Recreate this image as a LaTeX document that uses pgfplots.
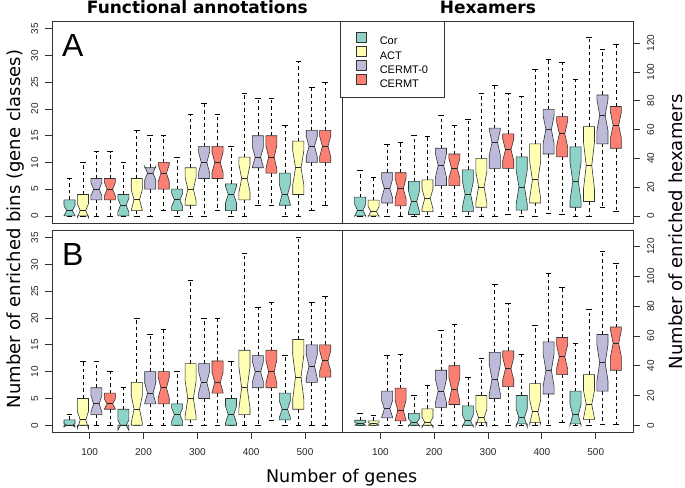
\documentclass[border=0pt]{standalone}
\usepackage{pgfplots}
\pgfplotsset{compat=1.18}
\usepgfplotslibrary{statistics}
\usepackage{fontspec}
\setmainfont{Liberation Sans}
\newfontfamily\dejavu{DejaVu Sans}
\definecolor{corc}{HTML}{8DD3C7}
\definecolor{actc}{HTML}{FFFFB3}
\definecolor{czc}{HTML}{BEBADA}
\definecolor{cmc}{HTML}{FB8072}
\definecolor{frm}{HTML}{333333}
\pgfplotsset{
  boxplot/notch lo/.initial=0,
  boxplot/notch hi/.initial=0,
  boxplot/draw direction=y,
  boxplot/box extend=0.82,
  boxplot/draw/box/.code={%
    \draw[/pgfplots/boxplot/every box/.try]
      (boxplot box cs:\pgfplotsboxplotvalue{lower quartile},0) --
      (boxplot box cs:\pgfplotsboxplotvalue{lower quartile},1) --
      (boxplot box cs:\pgfplotsboxplotvalue{notch lo},1) --
      (boxplot box cs:\pgfplotsboxplotvalue{median},0.75) --
      (boxplot box cs:\pgfplotsboxplotvalue{notch hi},1) --
      (boxplot box cs:\pgfplotsboxplotvalue{upper quartile},1) --
      (boxplot box cs:\pgfplotsboxplotvalue{upper quartile},0) --
      (boxplot box cs:\pgfplotsboxplotvalue{notch hi},0) --
      (boxplot box cs:\pgfplotsboxplotvalue{median},0.25) --
      (boxplot box cs:\pgfplotsboxplotvalue{notch lo},0) -- cycle;
  },
  boxplot/draw/median/.code={%
    \draw[fill=none, draw=black!85, line width=1.0pt]
      (boxplot box cs:\pgfplotsboxplotvalue{median},0.25) --
      (boxplot box cs:\pgfplotsboxplotvalue{median},0.75);
  },
  boxplot/draw/lower whisker/.code={%
    \draw[fill=none, draw=black, line width=0.6pt, dash pattern=on 3.5pt off 3pt]
      (boxplot box cs:\pgfplotsboxplotvalue{lower quartile},0.5) --
      (boxplot box cs:\pgfplotsboxplotvalue{lower whisker},0.5);
    \draw[fill=none, draw=black, line width=0.6pt, solid]
      (boxplot box cs:\pgfplotsboxplotvalue{lower whisker},0.25) --
      (boxplot box cs:\pgfplotsboxplotvalue{lower whisker},0.75);
  },
  boxplot/draw/upper whisker/.code={%
    \draw[fill=none, draw=black, line width=0.6pt, dash pattern=on 3.5pt off 3pt]
      (boxplot box cs:\pgfplotsboxplotvalue{upper quartile},0.5) --
      (boxplot box cs:\pgfplotsboxplotvalue{upper whisker},0.5);
    \draw[fill=none, draw=black, line width=0.6pt, solid]
      (boxplot box cs:\pgfplotsboxplotvalue{upper whisker},0.25) --
      (boxplot box cs:\pgfplotsboxplotvalue{upper whisker},0.75);
  },
  cor/.style={draw=frm, fill=corc, line width=0.6pt},
  act/.style={draw=frm, fill=actc, line width=0.6pt},
  cz/.style={draw=frm, fill=czc, line width=0.6pt},
  cm/.style={draw=frm, fill=cmc, line width=0.6pt},
  panel/.style={
    scale only axis, width=290.7pt,
    xmin=-0.3, xmax=21.3,
    axis line style={draw=frm, line width=0.8pt},
    tick style={draw=frm, line width=0.8pt},
    major tick length=6.5pt,
    tick align=outside,
    /pgf/number format/assume math mode=true,
    ticklabel style={font=\fontsize{10}{12}\selectfont, text=black!85},
  },
  leftp/.style={panel, ytick pos=left, yticklabel pos=left,
    yticklabel style={xshift=-7pt, rotate=90, anchor=south, inner sep=0pt}},
  rightp/.style={panel, ytick pos=right, yticklabel pos=right,
    yticklabel style={xshift=7pt, rotate=90, anchor=north, inner sep=0pt}},
  topp/.style={xtick=\empty},
  botp/.style={xtick={2.5,6.5,10.5,14.5,18.5}, xticklabels={100,200,300,400,500},
    xtick pos=lower, xticklabel style={anchor=north, inner sep=0pt, yshift=-9pt}},
}
\begin{document}
\begin{tikzpicture}
\path[use as bounding box] (0,0) rectangle (685pt,487pt);

% ---------- A: Functional annotations ----------
\begin{axis}[leftp, topp, at={(52pt,263.6pt)}, anchor=south west, height=202.1pt,
  ymin=-1.4, ymax=36.4, ytick={0,5,...,35}]
\addplot[cor,boxplot prepared={draw position=1,lower whisker=0,lower quartile=0,median=1,upper quartile=3,upper whisker=7,notch lo=0.05,notch hi=1.95}] coordinates {};
\addplot[act,boxplot prepared={draw position=2,lower whisker=0,lower quartile=0,median=1,upper quartile=4,upper whisker=10,notch lo=-0.26,notch hi=2.26}] coordinates {};
\addplot[cz,boxplot prepared={draw position=3,lower whisker=0,lower quartile=3,median=5,upper quartile=7,upper whisker=12,notch lo=3.74,notch hi=6.26}] coordinates {};
\addplot[cm,boxplot prepared={draw position=4,lower whisker=0,lower quartile=3,median=5,upper quartile=7,upper whisker=12,notch lo=3.74,notch hi=6.26}] coordinates {};
\addplot[cor,boxplot prepared={draw position=5,lower whisker=0,lower quartile=0,median=2,upper quartile=4,upper whisker=10,notch lo=0.74,notch hi=3.26}] coordinates {};
\addplot[act,boxplot prepared={draw position=6,lower whisker=0,lower quartile=1,median=3,upper quartile=7,upper whisker=16,notch lo=1.10,notch hi=4.90}] coordinates {};
\addplot[cz,boxplot prepared={draw position=7,lower whisker=0,lower quartile=5,median=8,upper quartile=9,upper whisker=15,notch lo=6.74,notch hi=9.26}] coordinates {};
\addplot[cm,boxplot prepared={draw position=8,lower whisker=1,lower quartile=5,median=8,upper quartile=10,upper whisker=15,notch lo=6.42,notch hi=9.58}] coordinates {};
\addplot[cor,boxplot prepared={draw position=9,lower whisker=0,lower quartile=1,median=3,upper quartile=5,upper whisker=11,notch lo=1.74,notch hi=4.26}] coordinates {};
\addplot[act,boxplot prepared={draw position=10,lower whisker=0,lower quartile=2,median=5,upper quartile=9,upper whisker=19,notch lo=2.79,notch hi=7.21}] coordinates {};
\addplot[cz,boxplot prepared={draw position=11,lower whisker=0,lower quartile=7,median=10,upper quartile=13,upper whisker=21,notch lo=8.10,notch hi=11.90}] coordinates {};
\addplot[cm,boxplot prepared={draw position=12,lower whisker=1,lower quartile=7,median=10,upper quartile=13,upper whisker=19,notch lo=8.10,notch hi=11.90}] coordinates {};
\addplot[cor,boxplot prepared={draw position=13,lower whisker=0,lower quartile=1,median=4,upper quartile=6,upper whisker=13,notch lo=2.42,notch hi=5.58}] coordinates {};
\addplot[act,boxplot prepared={draw position=14,lower whisker=0,lower quartile=3,median=7,upper quartile=11,upper whisker=23,notch lo=4.47,notch hi=9.53}] coordinates {};
\addplot[cz,boxplot prepared={draw position=15,lower whisker=2,lower quartile=9,median=11,upper quartile=15,upper whisker=22,notch lo=9.10,notch hi=12.90}] coordinates {};
\addplot[cm,boxplot prepared={draw position=16,lower whisker=2,lower quartile=8,median=11,upper quartile=15,upper whisker=22,notch lo=8.79,notch hi=13.21}] coordinates {};
\addplot[cor,boxplot prepared={draw position=17,lower whisker=0,lower quartile=2,median=4,upper quartile=8,upper whisker=17,notch lo=2.10,notch hi=5.90}] coordinates {};
\addplot[act,boxplot prepared={draw position=18,lower whisker=0,lower quartile=4,median=9,upper quartile=14,upper whisker=29,notch lo=5.84,notch hi=12.16}] coordinates {};
\addplot[cz,boxplot prepared={draw position=19,lower whisker=1,lower quartile=10,median=13,upper quartile=16,upper whisker=24,notch lo=11.10,notch hi=14.90}] coordinates {};
\addplot[cm,boxplot prepared={draw position=20,lower whisker=2,lower quartile=10,median=13,upper quartile=16,upper whisker=25,notch lo=11.10,notch hi=14.90}] coordinates {};
\end{axis}

% ---------- A: Hexamers ----------
\begin{axis}[rightp, topp, at={(342.7pt,263.6pt)}, anchor=south west, height=202.1pt,
  ymin=-5.2, ymax=135.2, ytick={0,20,...,120},
  legend style={at={(-0.01,1)}, anchor=north west, draw=frm, line width=0.8pt, fill=white,
    font=\fontsize{11}{11}\selectfont, inner xsep=16pt, inner ysep=10pt,
    row sep=0.85pt, column sep=13pt,
    nodes={inner sep=0pt, text height=8pt, text depth=0pt}},
  legend cell align=left,
  legend image code/.code={\draw[#1, draw=frm, line width=0.6pt] (0pt,-1pt) rectangle (10pt,9pt);}]
\addlegendimage{fill=corc}\addlegendentry{Cor}
\addlegendimage{fill=actc}\addlegendentry{ACT}
\addlegendimage{fill=czc}\addlegendentry{CERMT-0}
\addlegendimage{fill=cmc}\addlegendentry{CERMT}
\addplot[cor,boxplot prepared={draw position=1,lower whisker=0,lower quartile=0,median=4,upper quartile=13,upper whisker=32,notch lo=-0.11,notch hi=8.11}] coordinates {};
\addplot[act,boxplot prepared={draw position=2,lower whisker=0,lower quartile=0,median=3,upper quartile=11,upper whisker=27,notch lo=-0.48,notch hi=6.48}] coordinates {};
\addplot[cz,boxplot prepared={draw position=3,lower whisker=0,lower quartile=9,median=19,upper quartile=30,upper whisker=50,notch lo=12.36,notch hi=25.64}] coordinates {};
\addplot[cm,boxplot prepared={draw position=4,lower whisker=0,lower quartile=7,median=19,upper quartile=30,upper whisker=51,notch lo=11.73,notch hi=26.27}] coordinates {};
\addplot[cor,boxplot prepared={draw position=5,lower whisker=0,lower quartile=1,median=10,upper quartile=24,upper whisker=56,notch lo=2.73,notch hi=17.27}] coordinates {};
\addplot[act,boxplot prepared={draw position=6,lower whisker=0,lower quartile=3,median=12,upper quartile=25,upper whisker=55,notch lo=5.05,notch hi=18.95}] coordinates {};
\addplot[cz,boxplot prepared={draw position=7,lower whisker=0,lower quartile=21,median=35,upper quartile=47,upper whisker=70,notch lo=26.78,notch hi=43.22}] coordinates {};
\addplot[cm,boxplot prepared={draw position=8,lower whisker=0,lower quartile=21,median=33,upper quartile=43,upper whisker=63,notch lo=26.05,notch hi=39.95}] coordinates {};
\addplot[cor,boxplot prepared={draw position=9,lower whisker=0,lower quartile=3,median=15,upper quartile=32,upper whisker=67,notch lo=5.84,notch hi=24.16}] coordinates {};
\addplot[act,boxplot prepared={draw position=10,lower whisker=0,lower quartile=6,median=20,upper quartile=40,upper whisker=85,notch lo=9.26,notch hi=30.74}] coordinates {};
\addplot[cz,boxplot prepared={draw position=11,lower whisker=0,lower quartile=33,median=51,upper quartile=61,upper whisker=91,notch lo=42.15,notch hi=59.85}] coordinates {};
\addplot[cm,boxplot prepared={draw position=12,lower whisker=1,lower quartile=33,median=46,upper quartile=57,upper whisker=85,notch lo=38.42,notch hi=53.58}] coordinates {};
\addplot[cor,boxplot prepared={draw position=13,lower whisker=0,lower quartile=4,median=20,upper quartile=41,upper whisker=83,notch lo=8.31,notch hi=31.69}] coordinates {};
\addplot[act,boxplot prepared={draw position=14,lower whisker=0,lower quartile=9,median=25,upper quartile=50,upper whisker=102,notch lo=12.04,notch hi=37.96}] coordinates {};
\addplot[cz,boxplot prepared={draw position=15,lower whisker=2,lower quartile=43,median=60,upper quartile=74,upper whisker=109,notch lo=50.20,notch hi=69.80}] coordinates {};
\addplot[cm,boxplot prepared={draw position=16,lower whisker=1,lower quartile=41,median=57,upper quartile=69,upper whisker=107,notch lo=48.15,notch hi=65.85}] coordinates {};
\addplot[cor,boxplot prepared={draw position=17,lower whisker=0,lower quartile=6,median=24,upper quartile=48,upper whisker=95,notch lo=10.73,notch hi=37.27}] coordinates {};
\addplot[act,boxplot prepared={draw position=18,lower whisker=0,lower quartile=10,median=35,upper quartile=62,upper whisker=124,notch lo=18.57,notch hi=51.43}] coordinates {};
\addplot[cz,boxplot prepared={draw position=19,lower whisker=6,lower quartile=50,median=70,upper quartile=84,upper whisker=116,notch lo=59.26,notch hi=80.74}] coordinates {};
\addplot[cm,boxplot prepared={draw position=20,lower whisker=3,lower quartile=47,median=63,upper quartile=76,upper whisker=119,notch lo=53.84,notch hi=72.16}] coordinates {};
\end{axis}

% ---------- B: Functional annotations ----------
\begin{axis}[leftp, botp, at={(52pt,54.2pt)}, anchor=south west, height=202.6pt,
  ymin=-1.4, ymax=36.4, ytick={0,5,...,35}]
\addplot[cor,boxplot prepared={draw position=1,lower whisker=0,lower quartile=0,median=0,upper quartile=1,upper whisker=2,notch lo=-0.32,notch hi=0.32}] coordinates {};
\addplot[act,boxplot prepared={draw position=2,lower whisker=0,lower quartile=0,median=1,upper quartile=5,upper whisker=12,notch lo=-0.58,notch hi=2.58}] coordinates {};
\addplot[cz,boxplot prepared={draw position=3,lower whisker=0,lower quartile=2,median=4,upper quartile=7,upper whisker=12,notch lo=2.42,notch hi=5.58}] coordinates {};
\addplot[cm,boxplot prepared={draw position=4,lower whisker=0,lower quartile=3,median=4,upper quartile=6,upper whisker=10,notch lo=3.05,notch hi=4.95}] coordinates {};
\addplot[cor,boxplot prepared={draw position=5,lower whisker=0,lower quartile=0,median=0,upper quartile=3,upper whisker=7,notch lo=-0.95,notch hi=0.95}] coordinates {};
\addplot[act,boxplot prepared={draw position=6,lower whisker=0,lower quartile=0,median=3,upper quartile=8,upper whisker=20,notch lo=0.47,notch hi=5.53}] coordinates {};
\addplot[cz,boxplot prepared={draw position=7,lower whisker=0,lower quartile=4,median=6,upper quartile=10,upper whisker=17,notch lo=4.10,notch hi=7.90}] coordinates {};
\addplot[cm,boxplot prepared={draw position=8,lower whisker=0,lower quartile=4,median=7,upper quartile=10,upper whisker=18,notch lo=5.10,notch hi=8.90}] coordinates {};
\addplot[cor,boxplot prepared={draw position=9,lower whisker=0,lower quartile=0,median=2,upper quartile=4,upper whisker=10,notch lo=0.74,notch hi=3.26}] coordinates {};
\addplot[act,boxplot prepared={draw position=10,lower whisker=0,lower quartile=1,median=5,upper quartile=11.5,upper whisker=27,notch lo=1.68,notch hi=8.32}] coordinates {};
\addplot[cz,boxplot prepared={draw position=11,lower whisker=0,lower quartile=5,median=8,upper quartile=11.5,upper whisker=20,notch lo=5.95,notch hi=10.05}] coordinates {};
\addplot[cm,boxplot prepared={draw position=12,lower whisker=0,lower quartile=6,median=8,upper quartile=12,upper whisker=20,notch lo=6.10,notch hi=9.90}] coordinates {};
\addplot[cor,boxplot prepared={draw position=13,lower whisker=0,lower quartile=0,median=2,upper quartile=5,upper whisker=12,notch lo=0.42,notch hi=3.58}] coordinates {};
\addplot[act,boxplot prepared={draw position=14,lower whisker=0,lower quartile=2,median=7,upper quartile=14,upper whisker=32,notch lo=3.21,notch hi=10.79}] coordinates {};
\addplot[cz,boxplot prepared={draw position=15,lower whisker=0,lower quartile=7,median=10,upper quartile=13,upper whisker=22,notch lo=8.10,notch hi=11.90}] coordinates {};
\addplot[cm,boxplot prepared={draw position=16,lower whisker=1,lower quartile=7,median=10,upper quartile=14,upper whisker=23,notch lo=7.79,notch hi=12.21}] coordinates {};
\addplot[cor,boxplot prepared={draw position=17,lower whisker=0,lower quartile=1,median=3,upper quartile=6,upper whisker=13,notch lo=1.42,notch hi=4.58}] coordinates {};
\addplot[act,boxplot prepared={draw position=18,lower whisker=0,lower quartile=3,median=9,upper quartile=16,upper whisker=35,notch lo=4.89,notch hi=13.11}] coordinates {};
\addplot[cz,boxplot prepared={draw position=19,lower whisker=0,lower quartile=8,median=11,upper quartile=15,upper whisker=23,notch lo=8.79,notch hi=13.21}] coordinates {};
\addplot[cm,boxplot prepared={draw position=20,lower whisker=0,lower quartile=9,median=12,upper quartile=15,upper whisker=24,notch lo=10.10,notch hi=13.90}] coordinates {};
\end{axis}

% ---------- B: Hexamers ----------
\begin{axis}[rightp, botp, at={(342.7pt,54.2pt)}, anchor=south west, height=202.6pt,
  ymin=-5.04, ymax=131.04, ytick={0,20,...,120}]
\addplot[cor,boxplot prepared={draw position=1,lower whisker=0,lower quartile=0,median=1,upper quartile=3.4,upper whisker=8,notch lo=-0.07,notch hi=2.07}] coordinates {};
\addplot[act,boxplot prepared={draw position=2,lower whisker=0,lower quartile=0,median=1,upper quartile=3,upper whisker=7,notch lo=0.05,notch hi=1.95}] coordinates {};
\addplot[cz,boxplot prepared={draw position=3,lower whisker=0,lower quartile=5,median=11,upper quartile=23,upper whisker=47,notch lo=5.31,notch hi=16.69}] coordinates {};
\addplot[cm,boxplot prepared={draw position=4,lower whisker=0,lower quartile=3,median=10,upper quartile=25,upper whisker=48,notch lo=3.05,notch hi=16.95}] coordinates {};
\addplot[cor,boxplot prepared={draw position=5,lower whisker=0,lower quartile=0,median=2,upper quartile=8,upper whisker=20,notch lo=-0.53,notch hi=4.53}] coordinates {};
\addplot[act,boxplot prepared={draw position=6,lower whisker=0,lower quartile=0,median=2,upper quartile=11,upper whisker=27,notch lo=-1.48,notch hi=5.48}] coordinates {};
\addplot[cz,boxplot prepared={draw position=7,lower whisker=0,lower quartile=12,median=23,upper quartile=37,upper whisker=64,notch lo=15.10,notch hi=30.90}] coordinates {};
\addplot[cm,boxplot prepared={draw position=8,lower whisker=0,lower quartile=14,median=24,upper quartile=40,upper whisker=68,notch lo=15.78,notch hi=32.22}] coordinates {};
\addplot[cor,boxplot prepared={draw position=9,lower whisker=0,lower quartile=0,median=3,upper quartile=13,upper whisker=32,notch lo=-1.11,notch hi=7.11}] coordinates {};
\addplot[act,boxplot prepared={draw position=10,lower whisker=0,lower quartile=2,median=5,upper quartile=20,upper whisker=45,notch lo=-0.69,notch hi=10.69}] coordinates {};
\addplot[cz,boxplot prepared={draw position=11,lower whisker=0,lower quartile=18,median=31,upper quartile=49,upper whisker=95,notch lo=21.20,notch hi=40.80}] coordinates {};
\addplot[cm,boxplot prepared={draw position=12,lower whisker=0,lower quartile=26,median=38,upper quartile=50,upper whisker=82,notch lo=30.42,notch hi=45.58}] coordinates {};
\addplot[cor,boxplot prepared={draw position=13,lower whisker=0,lower quartile=1,median=5,upper quartile=20,upper whisker=48,notch lo=-1.00,notch hi=11.00}] coordinates {};
\addplot[act,boxplot prepared={draw position=14,lower whisker=0,lower quartile=2,median=9,upper quartile=28,upper whisker=67,notch lo=0.78,notch hi=17.22}] coordinates {};
\addplot[cz,boxplot prepared={draw position=15,lower whisker=0,lower quartile=21,median=37,upper quartile=56,upper whisker=102,notch lo=25.94,notch hi=48.06}] coordinates {};
\addplot[cm,boxplot prepared={draw position=16,lower whisker=2,lower quartile=34,median=46,upper quartile=59,upper whisker=93,notch lo=38.10,notch hi=53.90}] coordinates {};
\addplot[cor,boxplot prepared={draw position=17,lower whisker=0,lower quartile=1,median=7,upper quartile=23,upper whisker=55,notch lo=0.05,notch hi=13.95}] coordinates {};
\addplot[act,boxplot prepared={draw position=18,lower whisker=0,lower quartile=4,median=14,upper quartile=34,upper whisker=78,notch lo=4.52,notch hi=23.48}] coordinates {};
\addplot[cz,boxplot prepared={draw position=19,lower whisker=1,lower quartile=23,median=42,upper quartile=61,upper whisker=117,notch lo=29.99,notch hi=54.01}] coordinates {};
\addplot[cm,boxplot prepared={draw position=20,lower whisker=1,lower quartile=37,median=55,upper quartile=66,upper whisker=109,notch lo=45.84,notch hi=64.16}] coordinates {};
\end{axis}

% ---------- titles and labels ----------
\node[anchor=base, font=\dejavu\bfseries\fontsize{17}{17}\selectfont] at (197.4pt,473.7pt) {Functional annotations};
\node[anchor=base, font=\dejavu\bfseries\fontsize{17}{17}\selectfont] at (487.9pt,473.7pt) {Hexamers};
\node[anchor=base west, inner sep=0pt, font=\fontsize{32}{32}\selectfont] at (62pt,430pt) {A};
\node[anchor=base west, inner sep=0pt, font=\fontsize{32}{32}\selectfont] at (62pt,221.7pt) {B};
\node[anchor=base, rotate=90, inner sep=0pt, font=\dejavu\fontsize{18}{18}\selectfont] at (20pt,258pt) {Number of enriched bins (gene classes)};
\node[anchor=base, rotate=90, inner sep=0pt, font=\dejavu\fontsize{18}{18}\selectfont] at (682pt,255pt) {Number of enriched hexamers};
\node[anchor=base, inner sep=0pt, font=\dejavu\fontsize{17.5}{17.5}\selectfont] at (341.7pt,4.3pt) {Number of genes};
\end{tikzpicture}
\end{document}
